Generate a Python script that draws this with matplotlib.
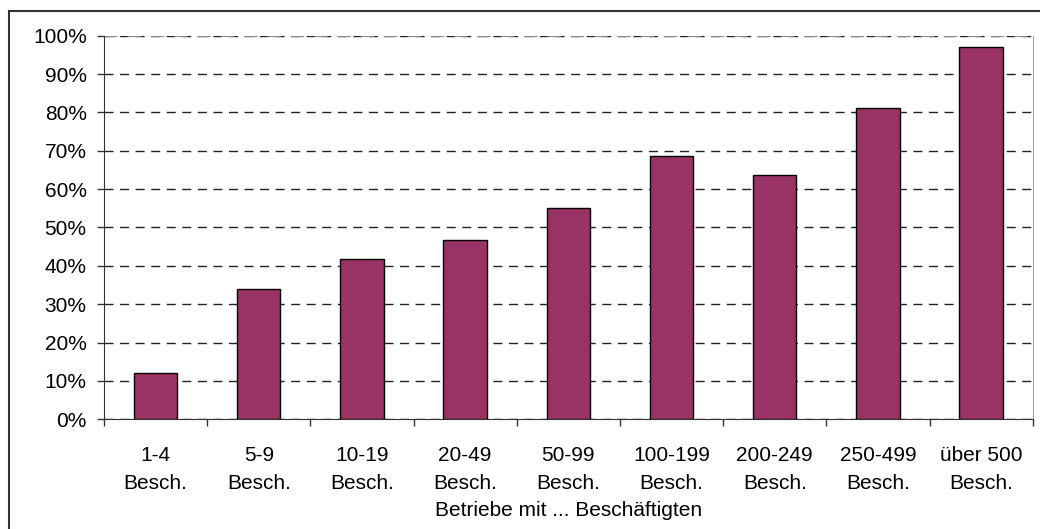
import matplotlib.pyplot as plt
from matplotlib.lines import Line2D
from matplotlib.ticker import FuncFormatter
import numpy as np

# Daten
kategorien = ['1-4\nBesch.', '5-9\nBesch.', '10-19\nBesch.', '20-49\nBesch.', '50-99\nBesch.',
              '100-199\nBesch.', '200-249\nBesch.', '250-499\nBesch.', 'über 500\nBesch.']
anteile = [0.121, 0.339, 0.419, 0.467, 0.552, 0.686, 0.637, 0.811, 0.970]

plt.rcParams['font.family'] = ['Liberation Sans', 'DejaVu Sans']

fig = plt.figure(figsize=(10.4, 5.29), dpi=100)
ax = fig.add_axes([0.1, 0.2074, 0.893, 0.7251])

x = np.arange(len(kategorien))
ax.bar(x, anteile, width=0.42, color='#993366', edgecolor='black', linewidth=1, zorder=3)

ax.set_xlim(-0.5, len(kategorien) - 0.5)
ax.set_ylim(0, 1)
ax.set_yticks(np.arange(0, 1.01, 0.1))
ax.yaxis.set_major_formatter(FuncFormatter(lambda v, p: '{:.0f}%'.format(v * 100)))
ax.grid(axis='y', color='#222222', linestyle=(0, (6.5, 4.7)), linewidth=1, zorder=1)
ax.axhline(1.0, color='#888888', linestyle=(0, (6.5, 4.7)), linewidth=1.5, zorder=2)

# Kategorien in der Mitte, Striche an den Grenzen
ax.set_xticks(x)
ax.set_xticklabels(kategorien, fontsize=15, linespacing=1.6)
ax.set_xticks(np.arange(-0.5, len(kategorien)), minor=True)
ax.tick_params(axis='x', which='major', length=0, pad=19)
ax.tick_params(axis='x', which='minor', length=5, width=1, color='#333333', direction='out')
ax.tick_params(axis='y', length=5, width=1, color='#333333', pad=7.5, labelsize=15)

ax.set_xlabel('Betriebe mit ... Beschäftigten', fontsize=15, labelpad=6)

ax.spines['top'].set_visible(False)
ax.spines['right'].set_color('#a0a0a0')
ax.spines['left'].set_color('#333333')
ax.spines['bottom'].set_color('#333333')

# Rahmen um das Diagramm (rechts und unten abgeschnitten)
fig.add_artist(Line2D([0.0084, 1.0], [0.9783, 0.9783], color='#333333', linewidth=1.5))
fig.add_artist(Line2D([0.0084, 0.0084], [0.0, 0.9783], color='#333333', linewidth=1.5))

plt.savefig('out.png', dpi=100)
